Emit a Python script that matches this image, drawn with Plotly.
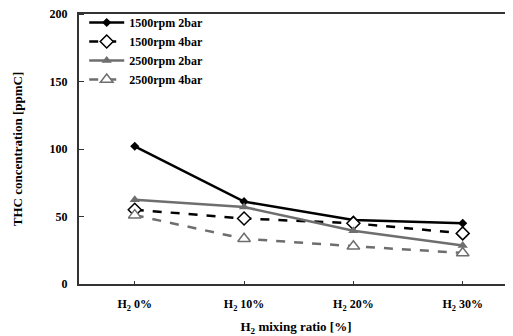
import plotly.graph_objects as go

categories = ["H<sub>2</sub> 0%", "H<sub>2</sub> 10%", "H<sub>2</sub> 20%", "H<sub>2</sub> 30%"]
s1500_2bar = [102, 61, 47.5, 45]
s1500_4bar = [55, 48.5, 45, 37.5]
s2500_2bar = [62.5, 57, 39.5, 28.5]
s2500_4bar = [51, 33.5, 28, 23]
yticks = [0, 50, 100, 150, 200]

xpos = list(range(len(categories)))
font = "Liberation Serif, Times New Roman, serif"
gray = "#6e6e6e"

fig = go.Figure()
fig.add_trace(go.Scatter(x=xpos, y=s1500_2bar, name="1500rpm 2bar", mode="lines+markers",
                         line=dict(color="black", width=2.5),
                         marker=dict(symbol="diamond", size=7, color="black")))
fig.add_trace(go.Scatter(x=xpos, y=s1500_4bar, name="1500rpm 4bar", mode="lines+markers",
                         line=dict(color="black", width=2.5, dash="dash"),
                         marker=dict(symbol="diamond", size=10, color="white",
                                     line=dict(color="black", width=1.5))))
fig.add_trace(go.Scatter(x=xpos, y=s2500_2bar, name="2500rpm 2bar", mode="lines+markers",
                         line=dict(color=gray, width=2.5),
                         marker=dict(symbol="triangle-up", size=9, color=gray)))
fig.add_trace(go.Scatter(x=xpos, y=s2500_4bar, name="2500rpm 4bar", mode="lines+markers",
                         line=dict(color=gray, width=2.5, dash="dash"),
                         marker=dict(symbol="triangle-up", size=11, color="white",
                                     line=dict(color=gray, width=1.5))))

fig.update_layout(
    width=505, height=328,
    margin=dict(l=71, r=0, t=6, b=52),
    paper_bgcolor="white", plot_bgcolor="white",
    font=dict(family=font, color="black", size=12),
    showlegend=True,
    legend=dict(x=0.012, y=1.022, xanchor="left", yanchor="top",
                font=dict(family=font, size=12, color="black", weight="bold"),
                bgcolor="rgba(0,0,0,0)", tracegroupgap=0, itemwidth=35),
    xaxis=dict(tickmode="array", tickvals=xpos, ticktext=[f"<b>{c}</b>" for c in categories],
               range=[-0.51, 3.46], showgrid=False, zeroline=False,
               showline=True, linecolor="#333", linewidth=2, mirror=True,
               ticks="outside", ticklen=8, tickcolor="rgba(0,0,0,0)",
               ticklabeloverflow="allow",
               minor=dict(tick0=0, dtick=1, ticks="inside", ticklen=3, tickcolor="#333",
                          showgrid=False),
               tickfont=dict(family=font, size=12, color="black"),
               title=dict(text="<b>H<sub>2</sub> mixing ratio [%]</b>",
                          font=dict(family=font, size=13, color="black"), standoff=10)),
    yaxis=dict(range=[0, 200], tickvals=yticks, showgrid=False, zeroline=False,
               showline=True, linecolor="#333", linewidth=2,
               ticks="outside", ticklen=7, tickcolor="rgba(0,0,0,0)",
               ticklabeloverflow="allow",
               minor=dict(tick0=0, dtick=50, ticks="inside", ticklen=5, tickcolor="#333",
                          showgrid=False),
               tickfont=dict(family=font, size=12, color="black", weight="bold"),
               title=dict(text="<b>THC concentration [ppmC]</b>",
                          font=dict(family=font, size=13, color="black"), standoff=24)),
)

fig.write_html("out.html")
